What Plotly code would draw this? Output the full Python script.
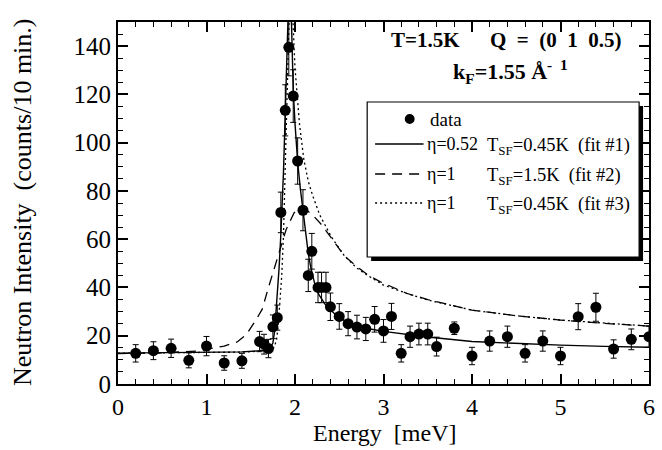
import plotly.graph_objects as go

# ---------------- data ----------------
energy = [0.2, 0.4, 0.6, 0.8, 1.0, 1.2, 1.4, 1.6, 1.65, 1.7, 1.75, 1.8, 1.84, 1.89, 1.93,
          1.98, 2.03, 2.09, 2.15, 2.19, 2.26, 2.3, 2.35, 2.4, 2.5, 2.6, 2.7, 2.8, 2.9, 3.0,
          3.09, 3.2, 3.3, 3.4, 3.5, 3.6, 3.8, 4.0, 4.2, 4.4, 4.6, 4.8, 5.0, 5.2, 5.4, 5.6,
          5.8, 6.0]
counts = [12.7, 13.8, 14.8, 9.8, 15.7, 8.7, 9.6, 17.6, 16.5, 14.7, 23.7, 27.5, 71.1, 113.4,
          139.5, 119.3, 92.4, 72.0, 45.0, 55.0, 40.0, 40.0, 40.0, 32.0, 28.0, 25.0, 23.6,
          22.8, 26.8, 22.0, 28.0, 12.7, 19.6, 20.7, 20.7, 15.5, 23.1, 11.6, 17.8, 19.6, 12.7,
          17.8, 11.6, 27.9, 31.8, 14.5, 18.5, 19.6]
count_err = [3.6, 3.7, 3.8, 3.1, 4.0, 3.0, 3.1, 4.2, 4.1, 3.8, 4.9, 5.2, 8.4, 10.6, 11.8,
             10.9, 9.6, 8.5, 6.7, 7.4, 6.3, 6.3, 6.3, 5.7, 5.3, 5.0, 4.9, 4.8, 5.3, 4.7,
             5.4, 3.6, 4.4, 4.5, 4.5, 3.9, 2.6, 3.6, 4.2, 4.4, 3.6, 4.2, 3.6, 5.4, 5.8, 3.8,
             4.3, 4.4]

fit1_x = [0, 0.5, 1.0, 1.4, 1.6, 1.68, 1.72, 1.75, 1.77, 1.79, 1.82, 1.84, 1.87, 1.90, 1.92,
          1.94, 1.96, 1.98, 2.0, 2.03, 2.06, 2.09, 2.12, 2.15, 2.18, 2.22, 2.27, 2.35, 2.45,
          2.55, 2.7, 2.85, 3.0, 3.5, 4.0, 4.5, 5.0, 5.5, 6.0]
fit1_y = [12.8, 12.9, 13.0, 13.3, 13.8, 14.3, 15.0, 17.0, 22.0, 31.0, 48.0, 62.0, 88.0,
          125.0, 150.0, 175.0, 150.0, 122.0, 108.0, 92.0, 81.0, 72.0, 62.0, 54.0, 48.0,
          42.0, 37.0, 32.5, 29.0, 26.5, 24.2, 22.8, 21.8, 19.5, 17.6, 16.7, 16.1, 15.6, 15.2]

fit2_x = [0, 0.5, 0.9, 1.2, 1.35, 1.45, 1.55, 1.63, 1.70, 1.76, 1.82, 1.9, 1.99, 2.1, 2.2,
          2.3, 2.44, 2.56, 2.67, 2.82, 2.96, 3.26, 3.5, 4.0, 4.5, 5.0, 5.5, 6.0]
fit2_y = [12.6, 12.9, 13.7, 15.7, 17.5, 20.5, 26.0, 31.0, 40.0, 47.0, 55.0, 64.0, 71.0, 73.0,
          70.0, 66.0, 59.0, 53.0, 49.5, 45.3, 42.4, 37.6, 35.0, 30.6, 28.3, 26.5, 25.1, 24.0]

fit3_x = [0, 0.5, 1.0, 1.4, 1.6, 1.7, 1.76, 1.79, 1.81, 1.83, 1.85, 1.87, 1.89, 1.92, 1.935,
          1.95, 1.975, 2.0, 2.05, 2.1, 2.15, 2.2, 2.28, 2.41, 2.56, 2.7, 2.82, 3.0, 3.26,
          3.5, 4.0, 4.5, 5.0, 5.5, 6.0]
fit3_y = [12.8, 12.9, 13.0, 13.2, 13.6, 14.0, 15.0, 18.0, 24.0, 33.0, 45.0, 62.0, 92.0,
          135.0, 155.0, 175.0, 152.0, 131.0, 108.0, 93.0, 84.0, 78.0, 70.0, 61.0, 53.0,
          48.0, 45.0, 41.0, 37.6, 34.8, 30.6, 28.3, 26.5, 25.1, 24.0]

x_ticks = [0, 1, 2, 3, 4, 5, 6]
y_ticks = [0, 20, 40, 60, 80, 100, 120, 140]

# ---------------- layout helpers ----------------
W, H = 662, 450
L, R, T, B = 118, 655, 22, 384
FONT = "Liberation Serif, Times New Roman, serif"


def pxx(x):
    return (x - L) / (R - L)


def pyy(y):
    return (B - y) / (B - T)


fig = go.Figure()

fig.add_trace(go.Scatter(x=fit2_x, y=fit2_y, mode="lines",
                         line=dict(color="black", width=1.3, dash="10px,7px"),
                         showlegend=False, hoverinfo="skip"))
fig.add_trace(go.Scatter(x=fit3_x, y=fit3_y, mode="lines",
                         line=dict(color="black", width=1.3, dash="2px,3px"),
                         showlegend=False, hoverinfo="skip"))
fig.add_trace(go.Scatter(x=fit1_x, y=fit1_y, mode="lines",
                         line=dict(color="black", width=1.4),
                         showlegend=False, hoverinfo="skip"))
fig.add_trace(go.Scatter(x=energy, y=counts, mode="markers",
                         marker=dict(color="black", size=11),
                         error_y=dict(type="data", array=count_err, color="black",
                                      thickness=1, width=3),
                         showlegend=False))

axis_common = dict(showline=True, linecolor="black", linewidth=2, mirror="allticks",
                   ticks="inside", ticklen=10, tickwidth=1.5, tickcolor="black",
                   showgrid=False, zeroline=False)

fig.update_xaxes(range=[0, 6], tickvals=x_ticks, **axis_common,
                 tickfont=dict(family=FONT, size=24, color="black"),
                 minor=dict(dtick=0.2, ticks="inside", ticklen=5, tickwidth=1,
                            tickcolor="black", showgrid=False))
fig.update_yaxes(range=[0, 150], tickvals=y_ticks, **axis_common,
                 tickfont=dict(family=FONT, size=25, color="black"),
                 minor=dict(dtick=5, ticks="inside", ticklen=5, tickwidth=1,
                            tickcolor="black", showgrid=False))

shapes = []
annotations = []

# legend box with shadow
shapes.append(dict(type="rect", xref="paper", yref="paper",
                   x0=pxx(374), x1=pxx(649), y0=pyy(261), y1=pyy(106),
                   fillcolor="black", line=dict(width=0), layer="above"))
shapes.append(dict(type="rect", xref="paper", yref="paper",
                   x0=pxx(370), x1=pxx(645), y0=pyy(257), y1=pyy(102),
                   fillcolor="white", line=dict(color="black", width=1.2), layer="above"))
# legend line samples
shapes.append(dict(type="line", xref="paper", yref="paper",
                   x0=pxx(378), x1=pxx(427), y0=pyy(144), y1=pyy(144),
                   line=dict(color="black", width=1.3), layer="above"))
shapes.append(dict(type="line", xref="paper", yref="paper",
                   x0=pxx(378), x1=pxx(427), y0=pyy(174), y1=pyy(174),
                   line=dict(color="black", width=1.3, dash="10px,7px"), layer="above"))
shapes.append(dict(type="line", xref="paper", yref="paper",
                   x0=pxx(378), x1=pxx(427), y0=pyy(203), y1=pyy(203),
                   line=dict(color="black", width=1.3, dash="2px,3px"), layer="above"))
# legend data marker
shapes.append(dict(type="circle", xref="paper", yref="paper",
                   x0=pxx(408), x1=pxx(418), y0=pyy(124), y1=pyy(114),
                   fillcolor="black", line=dict(color="black", width=0), layer="above"))


def txt(x, y, s, size=19, bold=False, anchor="left", angle=0):
    annotations.append(dict(xref="paper", yref="paper", x=pxx(x), y=pyy(y), text=s,
                            showarrow=False, xanchor=anchor, yanchor="middle",
                            textangle=angle,
                            font=dict(family=FONT, size=size, color="black",
                                      weight="bold" if bold else "normal")))


txt(432, 119, "data")
txt(428, 144, "η=0.52", size=18)
txt(489, 146, "T<sub>SF</sub>=0.45K&nbsp;&nbsp;(fit #1)", size=18.5)
txt(428, 174, "η=1", size=18)
txt(489, 176, "T<sub>SF</sub>=1.5K&nbsp;&nbsp;(fit #2)", size=18.5)
txt(428, 203, "η=1", size=18)
txt(489, 205, "T<sub>SF</sub>=0.45K&nbsp;&nbsp;(fit #3)", size=18.5)

txt(392, 40, "T=1.5K", size=21, bold=True)
txt(492, 40, "Q&nbsp;&nbsp;=&nbsp;&nbsp;(0&nbsp;&nbsp;1&nbsp;&nbsp;0.5)", size=21, bold=True)
txt(455, 71, "k<sub>F</sub>=1.55&nbsp;Å<sup>-&nbsp;&nbsp;1</sup>", size=22, bold=True)

# axis titles
txt(388, 433, "Energy&nbsp;&nbsp;[meV]", size=24, anchor="center")
txt(22, 202, "Neutron Intensity&nbsp;&nbsp;(counts/10 min.)", size=26, anchor="center",
    angle=-90)

fig.update_layout(width=W, height=H, margin=dict(l=L, r=W - R, t=T, b=H - B),
                  plot_bgcolor="white", paper_bgcolor="white",
                  shapes=shapes, annotations=annotations,
                  font=dict(family=FONT, color="black"))

fig.write_html("out.html")
